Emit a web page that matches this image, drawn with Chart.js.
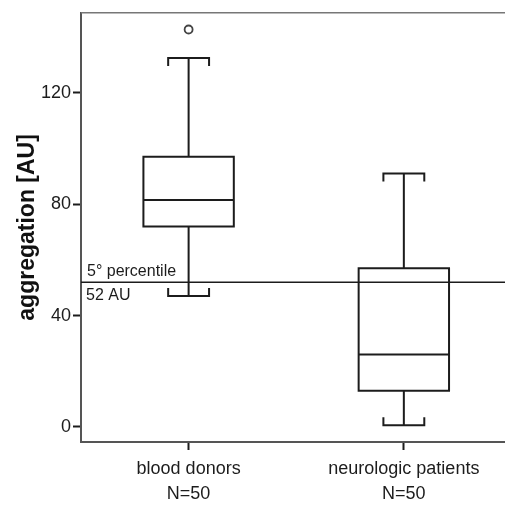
<!DOCTYPE html>
<html>
<head>
<meta charset="utf-8">
<script src="https://cdn.jsdelivr.net/npm/chart.js@4"></script>
<style>
  html, body { margin: 0; padding: 0; background: #fff; overflow: hidden; }
  canvas { display: block; }
</style>
</head>
<body>
<canvas id="boxChart" width="505" height="505"></canvas>
<script>
// box plot values
const groups = ['blood donors', 'neurologic patients'];
const groupN = ['N=50', 'N=50'];
const whiskerLow = [47, 0.6];
const q1 = [72, 13];
const median = [81.5, 26];
const q3 = [97, 57];
const whiskerHigh = [132.5, 91];
const outlierGroup = [0];
const outlierValue = [142.7];
const yTicks = [0, 40, 80, 120];
const refValue = 52;
const refLabels = ['5° percentile', '52 AU'];

const fontFamily = '"Liberation Sans", Arial, sans-serif';
const ink = '#1c1c1c';

// draws boxes, whiskers, medians, the reference line and the frame top
const boxPlugin = {
    id: 'boxes',
    afterDatasetsDraw(chart) {
        const { ctx, chartArea, scales: { x, y } } = chart;
        ctx.save();
        ctx.strokeStyle = ink;
        ctx.lineWidth = 2;
        groups.forEach((g, i) => {
            const cx = x.getPixelForValue(i + 1);
            const bl = x.getPixelForValue(i + 1 - 0.21);
            const br = x.getPixelForValue(i + 1 + 0.21);
            const cl = x.getPixelForValue(i + 1 - 0.095);
            const cr = x.getPixelForValue(i + 1 + 0.095);
            const yLo = y.getPixelForValue(whiskerLow[i]);
            const yQ1 = y.getPixelForValue(q1[i]);
            const yMed = y.getPixelForValue(median[i]);
            const yQ3 = y.getPixelForValue(q3[i]);
            const yHi = y.getPixelForValue(whiskerHigh[i]);
            ctx.beginPath();
            // whiskers
            ctx.moveTo(cx, yQ3); ctx.lineTo(cx, yHi);
            ctx.moveTo(cx, yQ1); ctx.lineTo(cx, yLo);
            // caps with short ends
            ctx.moveTo(cl, yHi + 8); ctx.lineTo(cl, yHi); ctx.lineTo(cr, yHi); ctx.lineTo(cr, yHi + 8);
            ctx.moveTo(cl, yLo - 8); ctx.lineTo(cl, yLo); ctx.lineTo(cr, yLo); ctx.lineTo(cr, yLo - 8);
            // box and median
            ctx.rect(bl, yQ3, br - bl, yQ1 - yQ3);
            ctx.moveTo(bl, yMed); ctx.lineTo(br, yMed);
            ctx.stroke();
        });

        // reference line
        const yRef = y.getPixelForValue(refValue);
        ctx.lineWidth = 1.5;
        ctx.beginPath();
        ctx.moveTo(chartArea.left, yRef);
        ctx.lineTo(chartArea.right, yRef);
        ctx.stroke();
        ctx.fillStyle = ink;
        ctx.font = '16px ' + fontFamily;
        ctx.textAlign = 'left';
        ctx.textBaseline = 'alphabetic';
        ctx.fillText(refLabels[0], chartArea.left + 6, yRef - 6);
        ctx.textBaseline = 'top';
        ctx.fillText(refLabels[1], chartArea.left + 5, yRef + 5);

        // top of frame
        ctx.strokeStyle = '#777';
        ctx.lineWidth = 1.5;
        ctx.beginPath();
        ctx.moveTo(chartArea.left, chartArea.top);
        ctx.lineTo(chartArea.right, chartArea.top);
        ctx.stroke();
        ctx.restore();
    }
};

new Chart(document.getElementById('boxChart'), {
    type: 'scatter',
    data: {
        datasets: [{
            label: 'outliers',
            data: outlierGroup.map((g, i) => ({ x: g + 1, y: outlierValue[i] })),
            pointStyle: 'circle',
            pointRadius: 4,
            borderColor: '#444',
            borderWidth: 1.8,
            backgroundColor: '#fff'
        }]
    },
    options: {
        responsive: false,
        animation: false,
        layout: { autoPadding: false, padding: { top: 10, right: 0, left: 0, bottom: 0 } },
        plugins: { legend: { display: false }, tooltip: { enabled: false } },
        scales: {
            x: {
                type: 'linear',
                min: 0.5,
                max: 2.47,
                afterBuildTicks: s => { s.ticks = groups.map((g, i) => ({ value: i + 1 })); },
                ticks: {
                    callback: (v, i) => [groups[i], groupN[i]],
                    maxRotation: 0,
                    autoSkip: false,
                    font: { family: fontFamily, size: 18, lineHeight: 1.4 },
                    color: ink,
                    padding: 6
                },
                grid: { drawOnChartArea: false, tickLength: 8, tickWidth: 2, tickColor: ink },
                border: { color: '#555', width: 2 },
                afterFit: s => { s.height = 63; s.paddingLeft = 0; s.paddingRight = 0; }
            },
            y: {
                min: -5.4,
                max: 148.7,
                afterBuildTicks: s => { s.ticks = yTicks.map(v => ({ value: v })); },
                ticks: { font: { family: fontFamily, size: 18 }, color: ink, padding: 2 },
                grid: { drawOnChartArea: false, tickLength: 8, tickWidth: 2, tickColor: ink },
                border: { color: '#555', width: 2 },
                title: {
                    display: true,
                    text: 'aggregation [AU]',
                    font: { family: fontFamily, size: 23, weight: 'bold' },
                    color: '#111',
                    padding: { top: 14, bottom: 0 }
                },
                afterFit: s => { s.width = 81; }
            }
        }
    },
    plugins: [boxPlugin]
});
</script>
</body>
</html>
